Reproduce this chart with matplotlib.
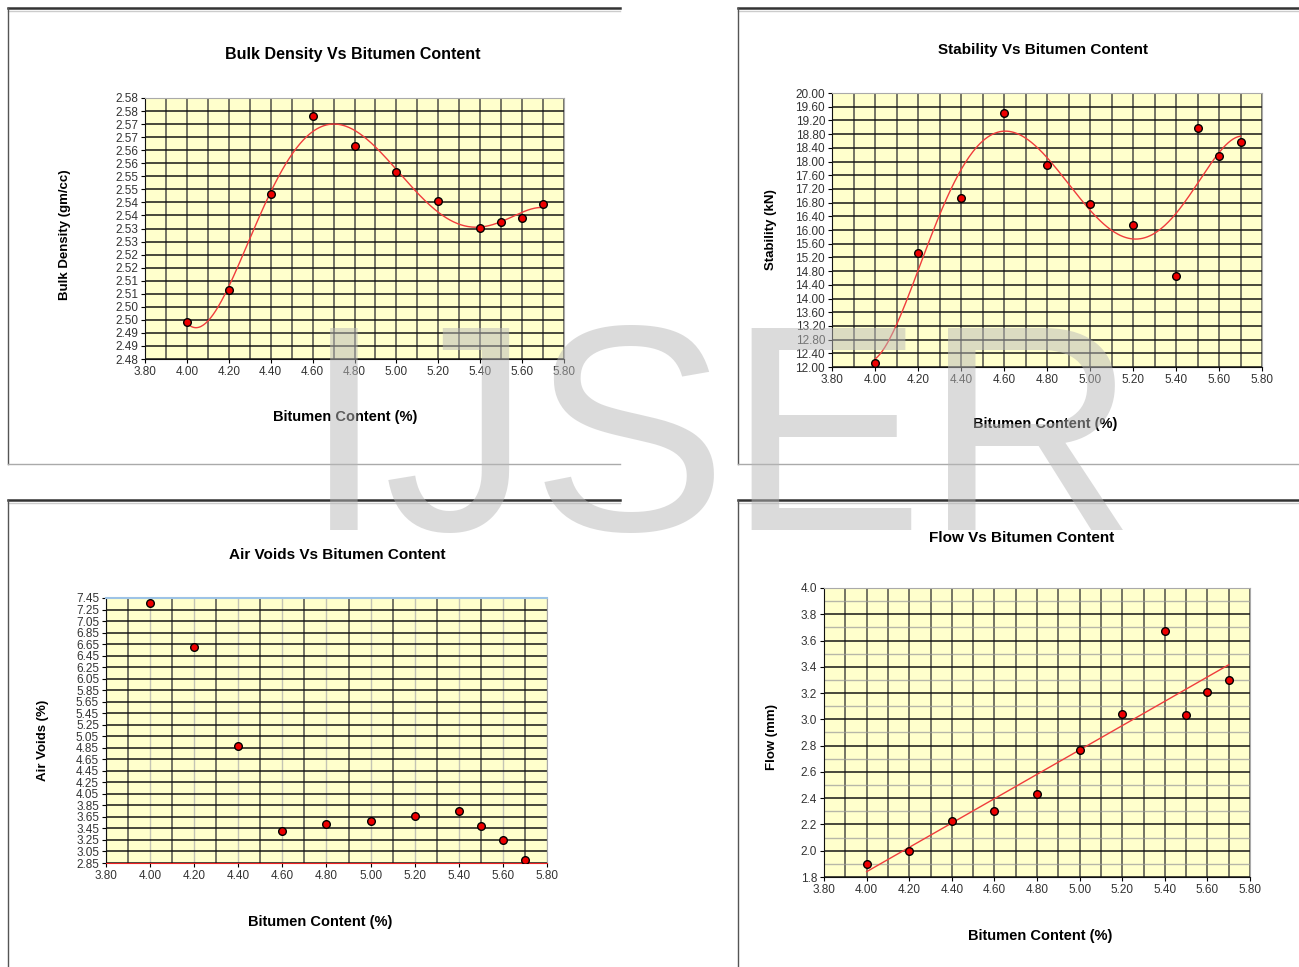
"""
Marshall test results: bulk density, stability, air voids and flow
plotted against bitumen content, four panels on one sheet.
"""
import numpy as np
import matplotlib.pyplot as plt
from matplotlib.lines import Line2D
from matplotlib.ticker import MultipleLocator, FormatStrFormatter

W, H = 1299, 967

BITUMEN = [4.00, 4.20, 4.40, 4.60, 4.80, 5.00, 5.20, 5.40, 5.50, 5.60, 5.70]

BULK_DENSITY = [2.4943, 2.5063, 2.5434, 2.5732, 2.5615, 2.5515,
                2.5404, 2.5301, 2.5323, 2.5342, 2.5393]
STABILITY = [12.11, 15.34, 16.94, 19.41, 17.89, 16.76,
             16.16, 14.67, 18.97, 18.15, 18.56]
AIR_VOIDS = [7.37, 6.60, 4.88, 3.41, 3.53, 3.58, 3.66, 3.75, 3.50, 3.25, 2.91]
FLOW = [1.90, 2.00, 2.23, 2.30, 2.43, 2.77, 3.04, 3.67, 3.03, 3.21, 3.30]

X_TICKS = [3.80, 4.00, 4.20, 4.40, 4.60, 4.80, 5.00, 5.20, 5.40, 5.60, 5.80]

BD_TICKS = [2.480, 2.485, 2.490, 2.495, 2.500, 2.505, 2.510, 2.515, 2.520,
            2.525, 2.530, 2.535, 2.540, 2.545, 2.550, 2.555, 2.560, 2.565,
            2.570, 2.575, 2.580]
BD_LABELS = ["2.48", "2.49", "2.49", "2.50", "2.50", "2.51", "2.51", "2.52",
             "2.52", "2.53", "2.53", "2.54", "2.54", "2.55", "2.55", "2.56",
             "2.56", "2.57", "2.57", "2.58", "2.58"]
ST_TICKS = np.arange(12.0, 20.01, 0.4)
AV_TICKS = np.arange(2.85, 7.46, 0.2)
FL_TICKS = np.arange(1.8, 4.01, 0.2)

YELLOW = "#ffffcc"
NARROW = ["Liberation Sans Narrow", "Liberation Sans", "DejaVu Sans"]
WIDE = ["Liberation Sans", "DejaVu Sans"]

fig = plt.figure(figsize=(W / 100, H / 100), dpi=100)
fig.patch.set_facecolor("white")


def px_axes(l, t, r, b):
    return fig.add_axes([l / W, 1 - b / H, (r - l) / W, (b - t) / H])


def px_text(x, y, s, **kw):
    fig.text(x / W, 1 - y / H, s, ha="center", va="center", **kw)


def frame(x0, y0, x1, y1):
    # chart-object border: dark top edge, thin grey left and bottom edges
    fig.add_artist(Line2D([x0 / W, x1 / W], [1 - y0 / H] * 2,
                          color="#333333", lw=1.8))
    fig.add_artist(Line2D([x0 / W, x1 / W], [1 - (y0 + 3) / H] * 2,
                          color="#cccccc", lw=1.0))
    fig.add_artist(Line2D([x0 / W] * 2, [1 - y0 / H, 1 - y1 / H],
                          color="#555555", lw=1.0))
    if y1 < H - 5:
        fig.add_artist(Line2D([x0 / W, x1 / W], [1 - y1 / H] * 2,
                              color="#aaaaaa", lw=1.0))


def base_axes(ax, yticks, ylabels=None, yfmt="%.2f"):
    ax.set_facecolor(YELLOW)
    ax.set_xlim(3.8, 5.8)
    ax.set_xticks(X_TICKS)
    ax.xaxis.set_major_formatter(FormatStrFormatter("%.2f"))
    ax.xaxis.set_minor_locator(MultipleLocator(0.1))
    ax.set_ylim(yticks[0], yticks[-1])
    ax.set_yticks(yticks)
    if ylabels is not None:
        ax.set_yticklabels(ylabels)
    else:
        ax.yaxis.set_major_formatter(FormatStrFormatter(yfmt))
    ax.tick_params(axis="both", which="major", direction="out", length=3,
                   width=0.8, pad=2, labelsize=8.5, labelcolor="#333333")
    ax.tick_params(axis="x", which="minor", length=0)
    for lab in ax.get_xticklabels() + ax.get_yticklabels():
        lab.set_family(NARROW)
    ax.spines["left"].set_color("#111111")
    ax.spines["bottom"].set_color("#111111")
    ax.spines["top"].set_color("#aaaaaa")
    ax.spines["right"].set_color("#aaaaaa")
    ax.set_axisbelow(True)


def dark_grid(ax, xwhich="both"):
    ax.grid(True, which="major", axis="y", color="#111111", lw=1.2,
            alpha=0.9)
    ax.grid(True, which=xwhich, axis="x", color="#333333", lw=1.2,
            alpha=0.8)


def points(ax, y):
    ax.plot(BITUMEN, y, "o", ms=5.5, mfc="#ee0000", mec="black", mew=1.0,
            zorder=5)


def trend(ax, y, deg):
    coef = np.polyfit(BITUMEN, y, deg)
    xs = np.linspace(BITUMEN[0], BITUMEN[-1], 300)
    ax.plot(xs, np.polyval(coef, xs), color="#f03c3c", lw=1.0, zorder=4)


# Bulk density
frame(8, 8, 620, 464)
ax1 = px_axes(145, 98, 564, 359)
base_axes(ax1, BD_TICKS, BD_LABELS)
dark_grid(ax1)
trend(ax1, BULK_DENSITY, 5)
points(ax1, BULK_DENSITY)
px_text(353, 55, "Bulk Density Vs Bitumen Content", fontsize=11.5,
        fontweight="bold", family=NARROW)
px_text(65, 235, "Bulk Density (gm/cc)", fontsize=9.5, fontweight="bold",
        family=WIDE, rotation=90)
px_text(345, 417, "Bitumen Content (%)", fontsize=10.5, fontweight="bold",
        family=NARROW)

# Stability
frame(738, 8, 1299, 464)
ax2 = px_axes(832, 93, 1262, 367)
base_axes(ax2, ST_TICKS)
dark_grid(ax2)
trend(ax2, STABILITY, 5)
points(ax2, STABILITY)
px_text(1043, 50, "Stability Vs Bitumen Content", fontsize=11,
        fontweight="bold", family=NARROW)
px_text(771, 230, "Stability (kN)", fontsize=9.5, fontweight="bold",
        family=WIDE, rotation=90)
px_text(1045, 424, "Bitumen Content (%)", fontsize=10.5, fontweight="bold",
        family=NARROW)

# Air voids
frame(8, 500, 620, 967)
ax3 = px_axes(106, 598, 547, 863)
base_axes(ax3, AV_TICKS)
dark_grid(ax3, xwhich="minor")
ax3.grid(True, which="major", axis="x", color="#c4c4b4", lw=1.0)
ax3.spines["bottom"].set_color("#ee2222")
ax3.spines["top"].set_color("#9dc3e6")
ax3.spines["top"].set_linewidth(1.5)
points(ax3, AIR_VOIDS)
px_text(337, 555, "Air Voids Vs Bitumen Content", fontsize=11,
        fontweight="bold", family=NARROW)
px_text(43, 740, "Air Voids (%)", fontsize=9.5, fontweight="bold",
        family=WIDE, rotation=90)
px_text(320, 922, "Bitumen Content (%)", fontsize=10.5, fontweight="bold",
        family=NARROW)

# Flow
frame(738, 500, 1299, 967)
ax4 = px_axes(824, 588, 1250, 877)
base_axes(ax4, FL_TICKS, yfmt="%.1f")
ax4.yaxis.set_minor_locator(MultipleLocator(0.1))
ax4.tick_params(axis="y", which="minor", length=0)
dark_grid(ax4)
ax4.grid(True, which="minor", axis="y", color="#999999", lw=1.0, alpha=0.7)
trend(ax4, FLOW, 1)
points(ax4, FLOW)
px_text(1022, 538, "Flow Vs Bitumen Content", fontsize=11,
        fontweight="bold", family=NARROW)
px_text(772, 737, "Flow (mm)", fontsize=9.5, fontweight="bold",
        family=WIDE, rotation=90)
px_text(1040, 936, "Bitumen Content (%)", fontsize=10.5, fontweight="bold",
        family=NARROW)

# publisher watermark across the sheet
fig.text(720 / W, 1 - 530 / H, "IJSER", ha="center", va="baseline",
         fontsize=212, color="#b8b8b8", alpha=0.5, family=WIDE, zorder=10)

fig.savefig("out.png", dpi=100, facecolor="white")
